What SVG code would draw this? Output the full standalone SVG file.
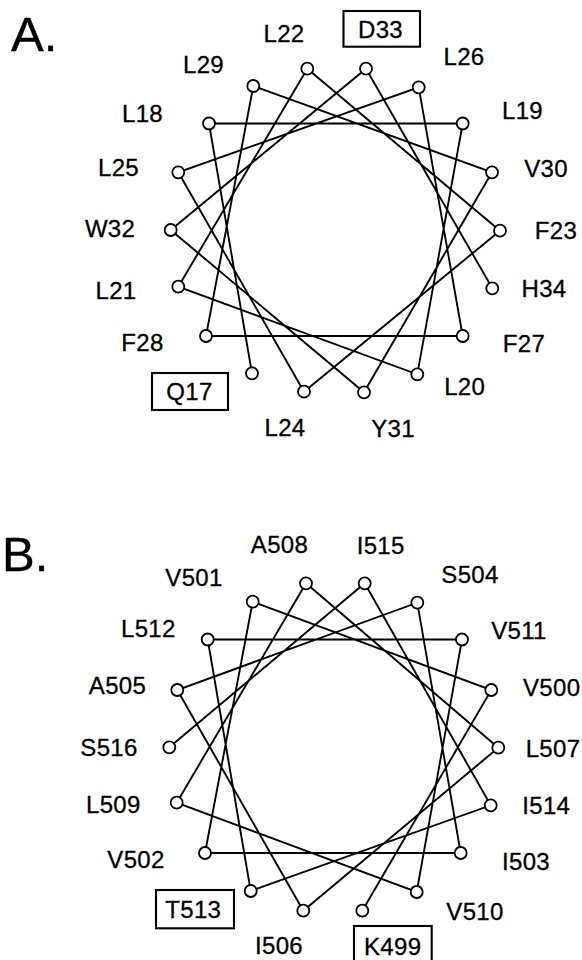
<svg xmlns="http://www.w3.org/2000/svg" width="582" height="960" viewBox="0 0 582 960">
  <style>
    .bg { fill: #ffffff; }
    .wire { fill: none; stroke: #000; stroke-width: 1.9; stroke-linejoin: miter; stroke-linecap: round; }
    .res { fill: #fff; stroke: #000; stroke-width: 1.8; }
    .lbl { font-family: "Liberation Sans", Arial, Helvetica, sans-serif; font-size: 24px; fill: #000; stroke: #000; stroke-width: 0.3; text-anchor: middle; letter-spacing: 0.3px; }
    .panel { font-family: "Liberation Sans", Arial, Helvetica, sans-serif; font-size: 49px; fill: #000; stroke: #000; stroke-width: 0.4; }
    .box { fill: none; stroke: #000; stroke-width: 2.1; }
  </style>
  <rect class="bg" x="0" y="0" width="582" height="960"/>

  <!-- panel letters -->
  <text class="panel" x="11" y="50.5">A.</text>
  <text class="panel" x="2" y="570.5">B.</text>

  <!-- helical wheel A: residues 17-34, consecutive residues joined -->
  <g id="connectors-a">
    <polyline class="wire" points="252,373.3 209,123.5 462.7,123.5 417.3,374.3 178.3,286.7 307.3,68.7 500,230.7 304,391.7 178.3,172.3 418.7,87.3 462.7,336 206,336 253.3,86 492,172.3 364,392.3 170.7,230 366,68.7 492.3,288.3"/>
  </g>

  <!-- helical wheel B: residues 499-516, consecutive residues joined -->
  <g id="connectors-b">
    <polyline class="wire" points="362.3,910.7 491.3,690 252.7,601.7 205,853 460.7,853 417.3,602.7 177.3,690 303.3,910.7 498.3,747.7 306,583.3 176.7,802.7 416.7,892 462,639.5 207.7,639.5 250.7,891 490.7,805.3 364.7,583.3 169.3,747.3"/>
  </g>

  <!-- wheel A residues -->
  <g id="Q17"><circle class="res" cx="252" cy="373.3" r="6"/><rect class="box" x="152" y="373" width="76" height="37"/><text class="lbl" x="189.5" y="399.5">Q17</text></g>
  <g id="L18"><circle class="res" cx="209" cy="123.5" r="6"/><text class="lbl" x="142.5" y="121.5">L18</text></g>
  <g id="L19"><circle class="res" cx="462.7" cy="123.5" r="6"/><text class="lbl" x="522.5" y="118.5">L19</text></g>
  <g id="L20"><circle class="res" cx="417.3" cy="374.3" r="6"/><text class="lbl" x="464.7" y="395">L20</text></g>
  <g id="L21"><circle class="res" cx="178.3" cy="286.7" r="6"/><text class="lbl" x="116" y="299">L21</text></g>
  <g id="L22"><circle class="res" cx="307.3" cy="68.7" r="6"/><text class="lbl" x="284" y="41.5">L22</text></g>
  <g id="F23"><circle class="res" cx="500" cy="230.7" r="6"/><text class="lbl" x="556" y="239">F23</text></g>
  <g id="L24"><circle class="res" cx="304" cy="391.7" r="6"/><text class="lbl" x="285" y="436">L24</text></g>
  <g id="L25"><circle class="res" cx="178.3" cy="172.3" r="6"/><text class="lbl" x="118.5" y="176">L25</text></g>
  <g id="L26"><circle class="res" cx="418.7" cy="87.3" r="6"/><text class="lbl" x="464" y="65">L26</text></g>
  <g id="F27"><circle class="res" cx="462.7" cy="336" r="6"/><text class="lbl" x="524" y="352">F27</text></g>
  <g id="F28"><circle class="res" cx="206" cy="336" r="6"/><text class="lbl" x="142.5" y="350.5">F28</text></g>
  <g id="L29"><circle class="res" cx="253.3" cy="86" r="6"/><text class="lbl" x="203.5" y="72.5">L29</text></g>
  <g id="V30"><circle class="res" cx="492" cy="172.3" r="6"/><text class="lbl" x="546" y="176.5">V30</text></g>
  <g id="Y31"><circle class="res" cx="364" cy="392.3" r="6"/><text class="lbl" x="393" y="437">Y31</text></g>
  <g id="W32"><circle class="res" cx="170.7" cy="230" r="6"/><text class="lbl" x="110" y="237">W32</text></g>
  <g id="D33"><circle class="res" cx="366" cy="68.7" r="6"/><rect class="box" x="343.5" y="11" width="76.5" height="35.7"/><text class="lbl" x="380.5" y="38.3">D33</text></g>
  <g id="H34"><circle class="res" cx="492.3" cy="288.3" r="6"/><text class="lbl" x="544" y="297">H34</text></g>

  <!-- wheel B residues -->
  <g id="K499"><circle class="res" cx="362.3" cy="910.7" r="6"/><rect class="box" x="354" y="926" width="77.7" height="38"/><text class="lbl" x="392.7" y="955">K499</text></g>
  <g id="V500"><circle class="res" cx="491.3" cy="690" r="6"/><text class="lbl" x="551.7" y="696">V500</text></g>
  <g id="V501"><circle class="res" cx="252.7" cy="601.7" r="6"/><text class="lbl" x="194" y="585.5">V501</text></g>
  <g id="V502"><circle class="res" cx="205" cy="853" r="6"/><text class="lbl" x="136" y="868">V502</text></g>
  <g id="I503"><circle class="res" cx="460.7" cy="853" r="6"/><text class="lbl" x="526" y="870">I503</text></g>
  <g id="S504"><circle class="res" cx="417.3" cy="602.7" r="6"/><text class="lbl" x="470" y="582.5">S504</text></g>
  <g id="A505"><circle class="res" cx="177.3" cy="690" r="6"/><text class="lbl" x="117.5" y="694">A505</text></g>
  <g id="I506"><circle class="res" cx="303.3" cy="910.7" r="6"/><text class="lbl" x="279" y="954">I506</text></g>
  <g id="L507"><circle class="res" cx="498.3" cy="747.7" r="6"/><text class="lbl" x="553" y="757">L507</text></g>
  <g id="A508"><circle class="res" cx="306" cy="583.3" r="6"/><text class="lbl" x="279.5" y="553.3">A508</text></g>
  <g id="L509"><circle class="res" cx="176.7" cy="802.7" r="6"/><text class="lbl" x="113.3" y="812.5">L509</text></g>
  <g id="V510"><circle class="res" cx="416.7" cy="892" r="6"/><text class="lbl" x="475" y="920">V510</text></g>
  <g id="V511"><circle class="res" cx="462" cy="639.5" r="6"/><text class="lbl" x="519" y="639">V511</text></g>
  <g id="L512"><circle class="res" cx="207.7" cy="639.5" r="6"/><text class="lbl" x="148.3" y="637">L512</text></g>
  <g id="T513"><circle class="res" cx="250.7" cy="891" r="6"/><rect class="box" x="156" y="890" width="78" height="38.3"/><text class="lbl" x="193.3" y="918.3">T513</text></g>
  <g id="I514"><circle class="res" cx="490.7" cy="805.3" r="6"/><text class="lbl" x="546.3" y="814">I514</text></g>
  <g id="I515"><circle class="res" cx="364.7" cy="583.3" r="6"/><text class="lbl" x="380.7" y="554">I515</text></g>
  <g id="S516"><circle class="res" cx="169.3" cy="747.3" r="6"/><text class="lbl" x="109" y="756">S516</text></g>
</svg>
